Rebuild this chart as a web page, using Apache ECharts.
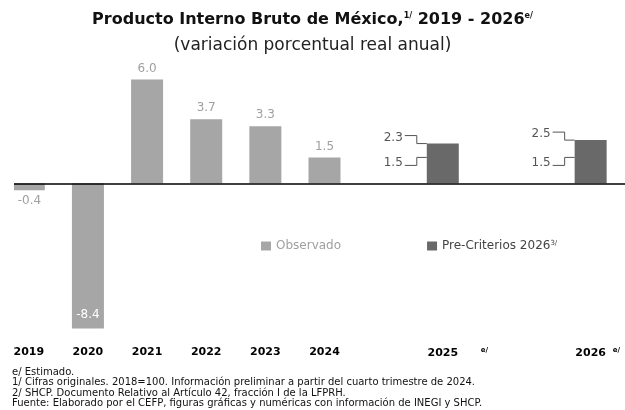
<!DOCTYPE html>
<html>
<head>
<meta charset="utf-8">
<script src="https://cdn.jsdelivr.net/npm/echarts@6/dist/echarts.min.js"></script>
<style>
  html, body { margin: 0; padding: 0; background: #fff; }
  #chart { width: 625px; height: 410px; }
</style>
</head>
<body>
<div id="chart"></div>
<script>
// datos
const years = ['2019', '2020', '2021', '2022', '2023', '2024', '2025', '2026'];
const obsYears = ['2019', '2020', '2021', '2022', '2023', '2024'];
const observado = [-0.4, -8.4, 6.0, 3.7, 3.3, 1.5];
const preYears = ['2025', '2026'];
const preCriterios = [2.3, 2.5];   // límite superior del rango
const preMin = [1.5, 1.5];         // límite inferior del rango
const footnotes = [
    'e/ Estimado.',
    '1/ Cifras originales. 2018=100. Información preliminar a partir del cuarto trimestre de 2024.',
    '2/ SHCP. Documento Relativo al Artículo 42, fracción I de la LFPRH.',
    'Fuente: Elaborado por el CEFP, figuras gráficas y numéricas con información de INEGI y SHCP.'
];

// huecos vacíos antes de cada año (solo para el espaciado del eje)
const gapsBefore = [0, 1, 1, 1, 1, 1, 3, 4];
let categories = [];
years.forEach((y, i) => {
    for (let k = 0; k < gapsBefore[i]; k++) categories.push('_' + i + '_' + k);
    categories.push(y);
});
categories.push('_end');

const font = 'DejaVu Sans';
const BAR_W = 32;

const obsData = obsYears.map((y, i) => {
    let item = { value: [y, observado[i]] };
    if (y === '2019') item.label = { position: 'bottom' };
    if (y === '2020') item.label = { position: 'insideBottom', color: '#fff', distance: 8 };
    return item;
});
const preData = preYears.map((y, i) => [y, preCriterios[i]]);
const rangeData = preYears.map((y, i) => [y, preMin[i], preCriterios[i]]);

function renderRange(params, api) {
    const hi = api.coord([api.value(0), api.value(2)]);
    const lo = api.coord([api.value(0), api.value(1)]);
    const left = hi[0] - BAR_W / 2;
    const stroke = '#555';
    const txt = (t, x, y) => ({
        type: 'text',
        style: { text: t, x: x, y: y, align: 'right', verticalAlign: 'middle',
                 fill: '#555', fontSize: 12, fontFamily: font }
    });
    return {
        type: 'group',
        children: [
            { type: 'polyline', shape: { points: [[left, hi[1]], [left - 10, hi[1]], [left - 10, hi[1] - 8], [left - 22, hi[1] - 8]] },
              style: { stroke: stroke, lineWidth: 1, fill: null } },
            txt(api.value(2).toFixed(1), left - 24, hi[1] - 6),
            { type: 'polyline', shape: { points: [[left, lo[1]], [left - 10, lo[1]], [left - 10, lo[1] + 8], [left - 22, lo[1] + 8]] },
              style: { stroke: stroke, lineWidth: 1, fill: null } },
            txt(api.value(1).toFixed(1), left - 24, lo[1] + 5)
        ]
    };
}

const chart = echarts.init(document.getElementById('chart'));
chart.setOption({
    animation: false,
    textStyle: { fontFamily: font },
    title: [
        {
            text: 'Producto Interno Bruto de México,{sup|1/} 2019 - 2026{sup|e/}',
            left: 'center', top: 7,
            textStyle: {
                fontSize: 16, fontWeight: 'bold', color: '#111', fontFamily: font,
                rich: { sup: { fontSize: 8, fontWeight: 'bold', color: '#111', verticalAlign: 'top', fontFamily: font } }
            }
        },
        {
            text: '(variación porcentual real anual)',
            left: 'center', top: 32,
            textStyle: { fontSize: 17, fontWeight: 'normal', color: '#222', fontFamily: font }
        }
    ],
    legend: {
        left: 256, top: 235,
        icon: 'rect', itemWidth: 10, itemHeight: 9, itemGap: 86,
        data: [
            { name: 'Observado', textStyle: { color: '#a0a0a0' } },
            { name: 'Pre-Criterios 2026', textStyle: { color: '#444' } }
        ],
        formatter: name => name === 'Pre-Criterios 2026' ? name + '{sup|3/}' : name,
        textStyle: {
            fontSize: 12, fontFamily: font,
            rich: { sup: { fontSize: 7, color: '#444', verticalAlign: 'top', fontFamily: font } }
        }
    },
    grid: { left: 14, width: 621, top: 45, height: 294, outerBoundsMode: 'none' },
    xAxis: {
        type: 'category',
        data: categories,
        axisLine: { show: false },
        axisTick: { show: false },
        axisLabel: {
            interval: 0, margin: 8,
            formatter: v => {
                if (v.charAt(0) === '_') return '';
                if (v === '2025') return '{p1|}{y|2025}{e1|e/}';
                if (v === '2026') return '{p2|}{y|2026}{e2|e/}';
                return '{y|' + v + '}';
            },
            rich: {
                y: { fontSize: 11, fontWeight: 'bold', color: '#000', fontFamily: font },
                p1: { width: 30 },
                e1: { width: 30, align: 'right', fontSize: 7, fontWeight: 'bold', color: '#000', verticalAlign: 'top' },
                p2: { width: 14 },
                e2: { width: 14, align: 'right', fontSize: 7, fontWeight: 'bold', color: '#000', verticalAlign: 'top' }
            }
        }
    },
    yAxis: {
        type: 'value', min: -9, max: 8, show: false
    },
    series: [
        {
            name: 'Observado',
            type: 'bar',
            barWidth: BAR_W,
            barGap: '-100%',
            itemStyle: { color: '#a6a6a6' },
            label: {
                show: true, position: 'top', distance: 5,
                color: '#a0a0a0', fontSize: 12, fontFamily: font,
                formatter: p => p.value[1].toFixed(1)
            },
            markLine: {
                silent: true, symbol: 'none',
                label: { show: false },
                lineStyle: { color: '#000', width: 1.5, type: 'solid' },
                data: [{ yAxis: 0 }]
            },
            data: obsData
        },
        {
            name: 'Pre-Criterios 2026',
            type: 'bar',
            barWidth: BAR_W,
            barGap: '-100%',
            itemStyle: { color: '#696969' },
            data: preData
        },
        {
            type: 'custom',
            renderItem: renderRange,
            encode: { x: 0, y: [1, 2] },
            silent: true,
            data: rangeData
        }
    ],
    graphic: footnotes.map((t, i) => ({
        type: 'text',
        left: 12, top: 367 + i * 10.5,
        style: { text: t, fontSize: 10, fontFamily: font, fill: '#111' }
    }))
});
</script>
</body>
</html>
